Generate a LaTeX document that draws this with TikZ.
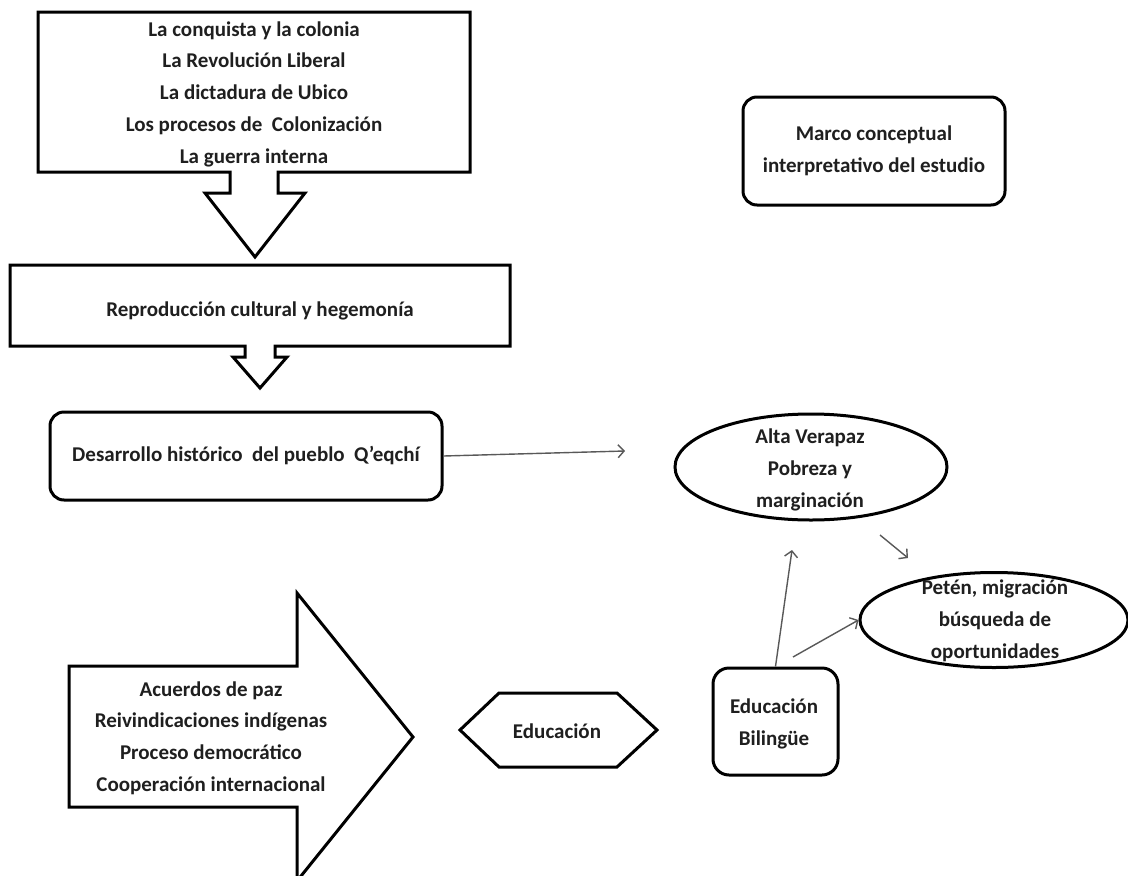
\documentclass[tikz,border=0pt]{standalone}
\usepackage{fontspec}
\setmainfont{Carlito}
\usetikzlibrary{arrows.meta,shapes.geometric}
\begin{document}
\begin{tikzpicture}[x=1pt,y=-1pt,
  txt/.style={font=\fontsize{21}{31.75}\selectfont\bfseries, align=center, text=black!88, inner sep=0pt},
  outline/.style={draw=black, line width=3pt, line join=miter},
  rbox/.style={draw=black, line width=3pt, rounded corners=14pt, inner sep=0pt},
  oval/.style={draw=black, line width=3pt, ellipse, inner sep=0pt},
  conn/.style={draw=black!65, line width=1.4pt, -{Straight Barb[length=6pt,width=13pt,line width=1.4pt]}}
]
\useasboundingbox (0,0) rectangle (1128,876);
\fill[white] (0,0) rectangle (1128,876);

% top callout
\draw[outline] (38,12) -- (470,12) -- (470,172) -- (278,172) -- (278,193) -- (305,193)
  -- (255,257) -- (205,193) -- (230,193) -- (230,172) -- (38,172) -- cycle;
\node[txt] (hist) at (254,94) {La conquista y la colonia\\La Revolución Liberal\\La dictadura de Ubico\\Los procesos de\ \ Colonización\\La guerra interna};

% second callout
\draw[outline] (10,265) -- (510,265) -- (510,346) -- (275,346) -- (275,357) -- (287,357)
  -- (260,388) -- (233,357) -- (245,357) -- (245,346) -- (10,346) -- cycle;
\node[txt] (repro) at (260,311) {Reproducción cultural y hegemonía};

% Desarrollo
\node[rbox, minimum width=392, minimum height=88] (desa) at (246,456) {};
\node[txt] (desatxt) at (desa) {Desarrollo histórico\ \ del pueblo\ \ Q’eqchí};

% Marco conceptual
\node[rbox, minimum width=262, minimum height=108] (marco) at (874,151) {};
\node[txt] (marcotxt) at (marco) {Marco conceptual\\interpretativo del estudio};

% Alta Verapaz
\node[oval, minimum width=272, minimum height=106] (alta) at (811,467) {};
\node[txt] (altatxt) at (810,470) {Alta Verapaz\\Pobreza y\\marginación};

% Peten
\node[oval, minimum width=268, minimum height=95] (peten) at (994,620) {};
\node[txt] (petentxt) at (995,621) {Petén, migración\\búsqueda de\\oportunidades};

% Educacion Bilingue
\node[rbox, minimum width=125, minimum height=107, rounded corners=16pt] (edb) at (775.5,721.5) {};
\node[txt] (edbtxt) at (774,724) {Educación\\Bilingüe};

% hexagon
\draw[outline] (460,730) -- (499,693) -- (617,693) -- (657,730) -- (617,767) -- (499,767) -- cycle;
\node[txt] (edu) at (557,731) {Educación};

% big right arrow
\draw[outline] (69,666) -- (297,666) -- (297,593) -- (413,737) -- (297,881) -- (297,807) -- (69,807) -- cycle;
\node[txt] (acuerdos) at (211,738) {Acuerdos de paz\\Reivindicaciones indígenas\\Proceso democrático\\Cooperación internacional};

% connectors
\coordinate (c1) at (625,451);
\draw[conn] (desa.east) -- (c1);
\coordinate (c2a) at (880,535);
\coordinate (c2b) at (908,558);
\draw[conn] (c2a) -- (c2b);
\coordinate (c3) at (792,550);
\draw[conn] (edb.north) -- (c3);
\coordinate (c4) at (793,657);
\draw[conn] (c4) -- (peten.west);
\end{tikzpicture}
\end{document}
